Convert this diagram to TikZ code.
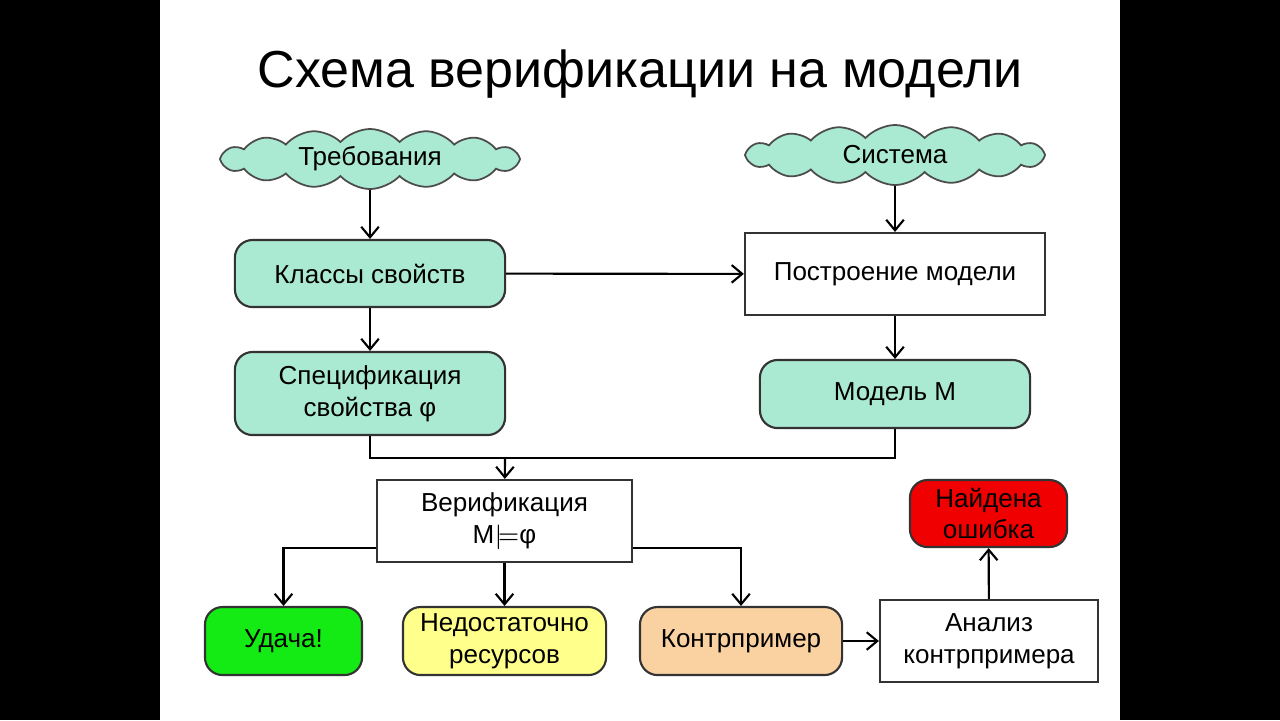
\documentclass[tikz,border=0pt]{standalone}
\usepackage{fontspec}
\setmainfont{Liberation Sans}
\usetikzlibrary{shapes,arrows.meta,positioning}

\definecolor{mintfill}{RGB}{170,233,210}
\definecolor{okfill}{RGB}{20,235,20}
\definecolor{lackfill}{RGB}{255,255,140}
\definecolor{cexfill}{RGB}{250,210,162}
\definecolor{errfill}{RGB}{240,0,0}

\begin{document}
\begin{tikzpicture}[x=0.01cm, y=-0.01cm,
    >={Straight Barb[length=3pt,width=5pt]},
    every node/.style={font=\fontsize{7.4}{9}\selectfont, align=center},
    wish/.style={cloud, cloud puffs=16, cloud puff arc=95, aspect=5, draw=black!70, line width=0.5pt, fill=mintfill, inner sep=0pt, minimum width=3cm, minimum height=0.6cm},
    greenbox/.style={rounded corners=5pt, draw=black!80, line width=0.6pt, fill=mintfill, inner sep=0pt},
    plainbox/.style={draw=black!80, line width=0.6pt, fill=white, inner sep=0pt},
    conn/.style={->, line width=0.6pt}]
    % slide
    \fill[black] (0,0) rectangle (1280,720);
    \fill[white] (160,0) rectangle (1120,720);
    \node[font=\fontsize{14.8}{18}\selectfont] (title) at (640,74) {Схема верификации на модели};

    % top row
    \node[wish] (treb) at (370,159) {Требования};
    \node[wish] (sist) at (895,155) {Система};
    \node[greenbox, minimum width=2.7cm, minimum height=0.67cm] (klass) at (370,273.5) {Классы свойств};
    \node[plainbox, minimum width=3cm, minimum height=0.82cm] (postr) at (895,274) {Построение модели};
    \node[greenbox, minimum width=2.7cm, minimum height=0.83cm] (spec) at (370,393.5) {Спецификация\\свойства φ};
    \node[greenbox, minimum width=2.7cm, minimum height=0.68cm] (model) at (895,394) {Модель М};

    % verification and results
    \node[plainbox, minimum width=2.55cm, minimum height=0.82cm] (verif) at (504.5,521) {Верификация\\М$\models$φ};
    \node[greenbox, fill=okfill, minimum width=1.57cm, minimum height=0.68cm] (luck) at (283.5,641) {Удача!};
    \node[greenbox, fill=lackfill, minimum width=2.03cm, minimum height=0.68cm] (lack) at (504.5,641) {Недостаточно\\ресурсов};
    \node[greenbox, fill=cexfill, minimum width=2.02cm, minimum height=0.68cm] (cex) at (741,641) {Контрпример};
    \node[plainbox, minimum width=2.18cm, minimum height=0.82cm] (anal) at (989,641) {Анализ\\контрпримера};
    \node[greenbox, fill=errfill, minimum width=1.57cm, minimum height=0.67cm] (err) at (988.5,513.5) {Найдена\\ошибка};

    \coordinate (merge) at (505,458);

    \draw[conn] (treb) -- (klass);
    \draw[conn] (sist) -- (postr);
    \draw[conn] (klass) -- (postr);
    \draw[conn] (klass) -- (spec);
    \draw[conn] (postr) -- (model);
    \draw[line width=0.6pt] (spec.south) |- (merge) -| (model.south);
    \draw[conn] (merge) -- (verif);
    \draw[conn] ([yshift=-0.27cm]verif.west) -| (luck);
    \draw[conn] (verif) -- (lack);
    \draw[conn] ([yshift=-0.27cm]verif.east) -| (cex);
    \draw[conn] (cex) -- (anal);
    \draw[conn] (anal) -- (err);
\end{tikzpicture}
\end{document}
